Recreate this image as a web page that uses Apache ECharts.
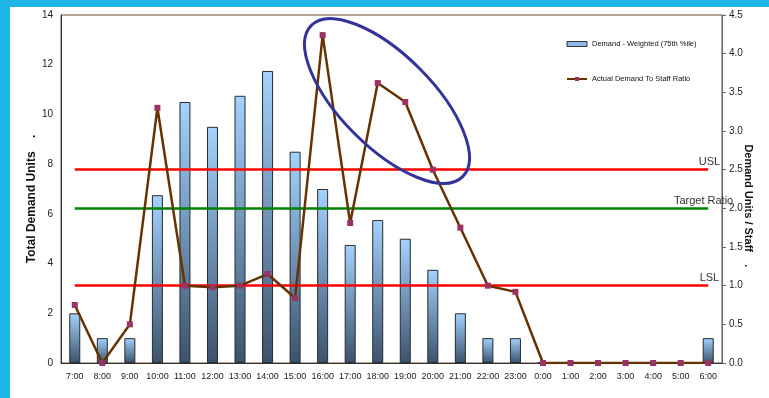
<!DOCTYPE html>
<html><head><meta charset="utf-8">
<script src="https://cdn.jsdelivr.net/npm/echarts@6/dist/echarts.min.js"></script>
<style>
html,body{margin:0;padding:0;width:769px;height:398px;background:#1fb5e9;overflow:hidden;}
#panel{position:absolute;left:10px;top:7px;width:759px;height:391px;background:#fff;}
#c{width:759px;height:391px;}
</style></head>
<body><div id="panel"><div id="c"></div></div>
<script>
const categories = ['7:00','8:00','9:00','10:00','11:00','12:00','13:00','14:00','15:00','16:00','17:00','18:00','19:00','20:00','21:00','22:00','23:00','0:00','1:00','2:00','3:00','4:00','5:00','6:00'];
const demandUnits = [2,1,1,6.75,10.5,9.5,10.75,11.75,8.5,7,4.75,5.75,5,3.75,2,1,1,0,0,0,0,0,0,1];
const ratio = [0.75,0,0.5,3.3,1.0,0.98,1.0,1.15,0.84,4.24,1.81,3.62,3.375,2.5,1.75,1.0,0.92,0,0,0,0,0,0,0];
const leftTicks = {min:0,max:14,interval:2};
const rightTicks = {min:0,max:4.5,interval:0.5};
const refLines = [{name:'USL',value:2.5,color:'#ff0000'},{name:'Target Ratio',value:2.0,color:'#008000'},{name:'LSL',value:1.0,color:'#ff0000'}];
const refLabelShift = [17,30,16];
const seriesNames = ['Demand - Weighted (75th %ile)','Actual Demand To Staff Ratio'];

const chart = echarts.init(document.getElementById('c'));
const font = 'Liberation Sans, Arial, sans-serif';
chart.setOption({
  animation:false,
  textStyle:{fontFamily:font},
  grid:{left:51,right:47,top:8,bottom:35,show:true,borderColor:'#6b4a2a',borderWidth:1,outerBoundsMode:'none',containLabel:false},
  legend:{
    orient:'vertical',left:551,top:28,itemWidth:20,itemHeight:5,itemGap:27,
    textStyle:{fontSize:7.5,color:'#111',fontFamily:font},
    data:[{name:seriesNames[0],icon:'rect',itemStyle:{color:'#8db9e6',borderColor:'#333',borderWidth:1}},{name:seriesNames[1]}]
  },
  xAxis:{
    type:'category',data:categories,boundaryGap:true,
    axisLine:{lineStyle:{color:'#333',width:1}},
    axisTick:{show:false},
    axisLabel:{fontSize:9,color:'#222',margin:9,interval:0}
  },
  yAxis:[{
    type:'value',min:leftTicks.min,max:leftTicks.max,interval:leftTicks.interval,
    name:'Total Demand Units    .      ',nameLocation:'middle',nameGap:23,nameMoveOverlap:false,
    nameTextStyle:{fontSize:12,fontWeight:'bold',color:'#111'},
    axisLine:{show:true,lineStyle:{color:'#333'}},axisTick:{show:false},
    splitLine:{show:false},
    axisLabel:{fontSize:10,color:'#222',margin:8}
  },{
    type:'value',min:rightTicks.min,max:rightTicks.max,interval:rightTicks.interval,position:'right',
    name:'           Demand Units / Staff    .',nameLocation:'middle',nameGap:21,nameRotate:-90,nameMoveOverlap:false,
    nameTextStyle:{fontSize:11,fontWeight:'bold',color:'#111'},
    axisLine:{show:true,lineStyle:{color:'#666'}},
    axisTick:{show:true,length:4,lineStyle:{color:'#666'}},
    splitLine:{show:false},
    axisLabel:{fontSize:10,color:'#222',margin:7,formatter:v=>v.toFixed(1)}
  }],
  series:[{
    name:seriesNames[0],type:'bar',data:demandUnits,barWidth:11,yAxisIndex:0,
    itemStyle:{
      color:new echarts.graphic.LinearGradient(0,0,0,1,[{offset:0,color:'#a3d3ff'},{offset:1,color:'#3b526d'}]),
      borderColor:'#2a2a2a',borderWidth:1
    }
  },{
    name:seriesNames[1],type:'line',data:ratio,yAxisIndex:1,
    symbol:'rect',symbolSize:6,
    lineStyle:{color:'#663300',width:2.5},
    itemStyle:{color:'#993366'},
    z:5,
    markLine:{
      silent:true,symbol:'none',
      data:refLines.map((r,i)=>[
        {xAxis:categories[0],yAxis:r.value,lineStyle:{color:r.color,width:2.5,type:'solid'},
         label:{show:true,formatter:r.name,position:'insideEndTop',offset:[refLabelShift[i],3],fontSize:11,color:'#333',fontFamily:font}},
        {xAxis:categories[categories.length-1],yAxis:r.value}
      ])
    }
  }],
  graphic:[{
    type:'ellipse',x:377,y:94,rotation:-Math.PI/4,
    shape:{cx:0,cy:0,rx:107,ry:46},
    style:{fill:'none',stroke:'#333399',lineWidth:3},z:100
  }]
});
</script></body></html>
